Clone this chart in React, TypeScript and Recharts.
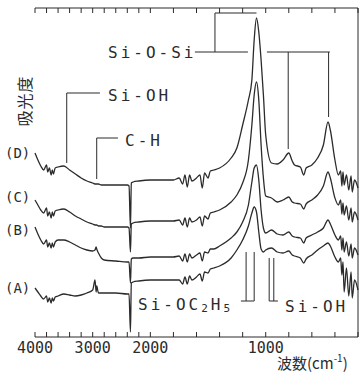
import { LineChart, Line, XAxis, YAxis, ReferenceLine } from 'recharts';

// IR spectra of 4 films (A)-(D); values are height above the baseline
const wavenumbers = [
  4000, 3950, 3900, 3850, 3800, 3780, 3750, 3720, 3700, 3680,
  3650, 3600, 3500, 3400, 3300, 3200, 3100, 3000, 2960, 2940,
  2930, 2900, 2850, 2800, 2600, 2400, 2370, 2345, 2330, 2300,
  2200, 2000, 1900, 1800, 1750, 1720, 1700, 1680, 1660, 1640,
  1600, 1570, 1550, 1530, 1500, 1480, 1450, 1400, 1300, 1250,
  1200, 1150, 1120, 1100, 1080, 1060, 1040, 1020, 1000, 950,
  900, 850, 800, 770, 750, 700, 670, 650, 600, 550,
  500, 460, 440, 400, 370, 350, 340, 330, 320, 300,
  280, 260, 250, 230, 200,
];

const traceD = [
  184, 177, 171, 167, 172, 165, 169, 162, 167, 163,
  169, 170, 171, 167, 163, 159, 156, 154, 153, 153,
  153, 153, 152, 152, 152, 152, 151, 109, 154, 155,
  156, 157, 157, 157, 159, 153, 162, 150, 162, 156,
  159, 162, 149, 164, 159, 166, 167, 169, 179, 189,
  212, 237, 257, 297, 319, 305, 277, 242, 202, 174,
  173, 177, 184, 176, 172, 170, 162, 169, 172, 179,
  192, 215, 207, 177, 162, 166, 151, 165, 152, 162,
  147, 161, 145, 157, 149,
];

const traceC = [
  137, 132, 127, 124, 129, 121, 125, 119, 125, 121,
  126, 127, 128, 125, 121, 118, 115, 113, 112, 112,
  112, 111, 111, 110, 110, 110, 109, 85, 113, 114,
  115, 116, 116, 116, 117, 112, 119, 110, 119, 115,
  117, 120, 111, 121, 118, 124, 125, 127, 135, 142,
  154, 177, 212, 242, 255, 237, 192, 159, 141, 139,
  135, 137, 140, 135, 134, 133, 128, 133, 137, 142,
  151, 165, 159, 139, 132, 137, 123, 134, 122, 131,
  117, 129, 115, 125, 117,
];

const traceB = [
  110, 103, 97, 93, 97, 90, 94, 89, 94, 90,
  95, 97, 97, 95, 92, 89, 87, 86, 87, 90,
  88, 84, 79, 77, 76, 75, 75, 54, 78, 79,
  79, 80, 80, 80, 81, 76, 83, 75, 83, 79,
  82, 84, 76, 85, 84, 88, 88, 91, 99, 105,
  115, 132, 155, 169, 172, 157, 127, 109, 104, 107,
  103, 102, 105, 101, 100, 99, 94, 99, 102, 105,
  109, 117, 113, 102, 97, 101, 87, 99, 85, 95,
  81, 93, 79, 89, 82,
];

const traceA = [
  49, 45, 41, 38, 41, 35, 39, 34, 39, 36,
  40, 41, 43, 42, 41, 42, 44, 47, 57, 45,
  51, 44, 44, 44, 44, 43, 43, 5, 54, 55,
  56, 57, 57, 57, 57, 53, 60, 53, 61, 57,
  60, 63, 56, 65, 64, 68, 69, 71, 79, 87,
  97, 111, 124, 130, 125, 105, 88, 85, 87, 89,
  85, 84, 86, 82, 81, 79, 74, 78, 82, 87,
  91, 94, 91, 80, 75, 79, 62, 75, 45, 69,
  41, 65, 39, 57, 47,
];

const tickWavenumbers = [
  4000, 3800, 3600, 3400, 3200, 3000, 2800, 2600, 2400, 2200, 2000,
  1800, 1600, 1400, 1200, 1000, 800, 600, 400, 200,
];
const labelledTicks = [4000, 3000, 2000, 1000];

const INK = '#2b2b2b';
const MONO = "'DejaVu Sans Mono', monospace";
const CJK = "'Noto Sans CJK JP', sans-serif";

// the scan uses half scale above 2000 cm-1
const toPos = (w: number) => (w >= 2000 ? (4000 - w) / 2 : 1000 + (2000 - w));
const toWavenumber = (p: number) => (p <= 1000 ? 4000 - 2 * p : 3000 - p);

const data = wavenumbers.map((w, i) => ({
  pos: toPos(w),
  D: traceD[i],
  C: traceC[i],
  B: traceB[i],
  A: traceA[i],
}));

function BottomTick({ x, y, payload }: any) {
  const w = Math.round(toWavenumber(payload.value));
  return (
    <g>
      <line x1={x} y1={y} x2={x} y2={y - 5} stroke={INK} />
      {labelledTicks.includes(w) && (
        <text x={x} y={y + 11} textAnchor="middle" dominantBaseline="central"
          fontFamily={MONO} fontSize={15} fill={INK}>
          {w}
        </text>
      )}
    </g>
  );
}

function TopTick({ x, y }: any) {
  return <line x1={x} y1={y} x2={x} y2={y + 5} stroke={INK} />;
}

// annotation brackets, in wavenumber / height units
const seg = (w1: number, h1: number, w2: number, h2: number) =>
  [{ x: toPos(w1), y: h1 }, { x: toPos(w2), y: h2 }];

const brackets = [
  seg(1614, 285, 1154, 285),
  seg(1440, 285, 1440, 324),
  seg(1440, 324, 1080, 324),
  seg(990, 285, 444, 285),
  seg(805, 285, 805, 188),
  seg(455, 285, 455, 220),
  seg(2874, 244, 3450, 244),
  seg(3450, 244, 3450, 174),
  seg(2562, 199, 2930, 199),
  seg(2930, 199, 2930, 158),
  seg(1215, 36, 1100, 36),
  seg(1170, 36, 1170, 85),
  seg(1100, 36, 1100, 85),
  seg(970, 36, 894, 36),
  seg(970, 36, 970, 79),
  seg(930, 36, 930, 79),
];

const labelStyle = { fontFamily: MONO, fontSize: 16, fill: INK, letterSpacing: 3 };

export default function App() {
  return (
    <div style={{ position: 'absolute', left: 0, top: 0, width: 360, height: 372, background: '#fff' }}>
      <LineChart width={360} height={372} data={data}
        margin={{ top: 0, right: 0, bottom: 0, left: 35 }}>
        <XAxis dataKey="pos" type="number" domain={[0, 2800]} ticks={tickWavenumbers.map(toPos)}
          height={35} tickSize={0} tickMargin={0} tickLine={false}
          axisLine={{ stroke: INK }} tick={<BottomTick />} interval={0} />
        <XAxis xAxisId="top" orientation="top" dataKey="pos" type="number" domain={[0, 2800]}
          ticks={tickWavenumbers.map(toPos)} height={8} tickSize={0} tickMargin={0}
          tickLine={false} axisLine={{ stroke: INK }} tick={<TopTick />} interval={0} />
        <YAxis domain={[0, 329]} width={0} tick={false} tickLine={false} axisLine={{ stroke: INK }} />
        <YAxis yAxisId="right" orientation="right" domain={[0, 329]} width={2} tick={false}
          tickLine={false} axisLine={{ stroke: INK }} />
        {brackets.map((s, i) => (
          <ReferenceLine key={i} segment={s} stroke={INK} strokeWidth={1} />
        ))}
        <Line dataKey="D" stroke={INK} strokeWidth={1.3} dot={false} isAnimationActive={false} type="monotone" />
        <Line dataKey="C" stroke={INK} strokeWidth={1.3} dot={false} isAnimationActive={false} type="monotone" />
        <Line dataKey="B" stroke={INK} strokeWidth={1.3} dot={false} isAnimationActive={false} type="monotone" />
        <Line dataKey="A" stroke={INK} strokeWidth={1.3} dot={false} isAnimationActive={false} type="monotone" />
      </LineChart>
      <svg width={360} height={372} style={{ position: 'absolute', left: 0, top: 0, pointerEvents: 'none' }}>
        <g dominantBaseline="central">
          <text x={108} y={52} {...labelStyle}>Si-O-Si</text>
          <text x={108} y={95} {...labelStyle}>Si-OH</text>
          <text x={125} y={140} {...labelStyle}>C-H</text>
          <text x={138} y={304} {...labelStyle}>
            Si-OC<tspan fontSize={11} dy={4}>2</tspan><tspan dy={-4}>H</tspan><tspan fontSize={11} dy={4}>5</tspan>
          </text>
          <text x={285} y={306} {...labelStyle}>Si-OH</text>
          {[['(D)', 153], ['(C)', 197], ['(B)', 230], ['(A)', 288]].map(([t, y]) => (
            <text key={t as string} x={5} y={y as number} fontFamily={MONO} fontSize={14} fill={INK}>{t}</text>
          ))}
          <text x={0} y={0} transform="translate(24 101) rotate(-90)" textAnchor="middle"
            fontFamily={CJK} fontSize={16} fill={INK} letterSpacing={1}>吸光度</text>
          <text x={277} y={362} fontFamily={CJK} fontSize={15} fill={INK}>
            波数(cm<tspan fontSize={10} dy={-5}>-1</tspan><tspan dy={5}>)</tspan>
          </text>
        </g>
      </svg>
    </div>
  );
}
